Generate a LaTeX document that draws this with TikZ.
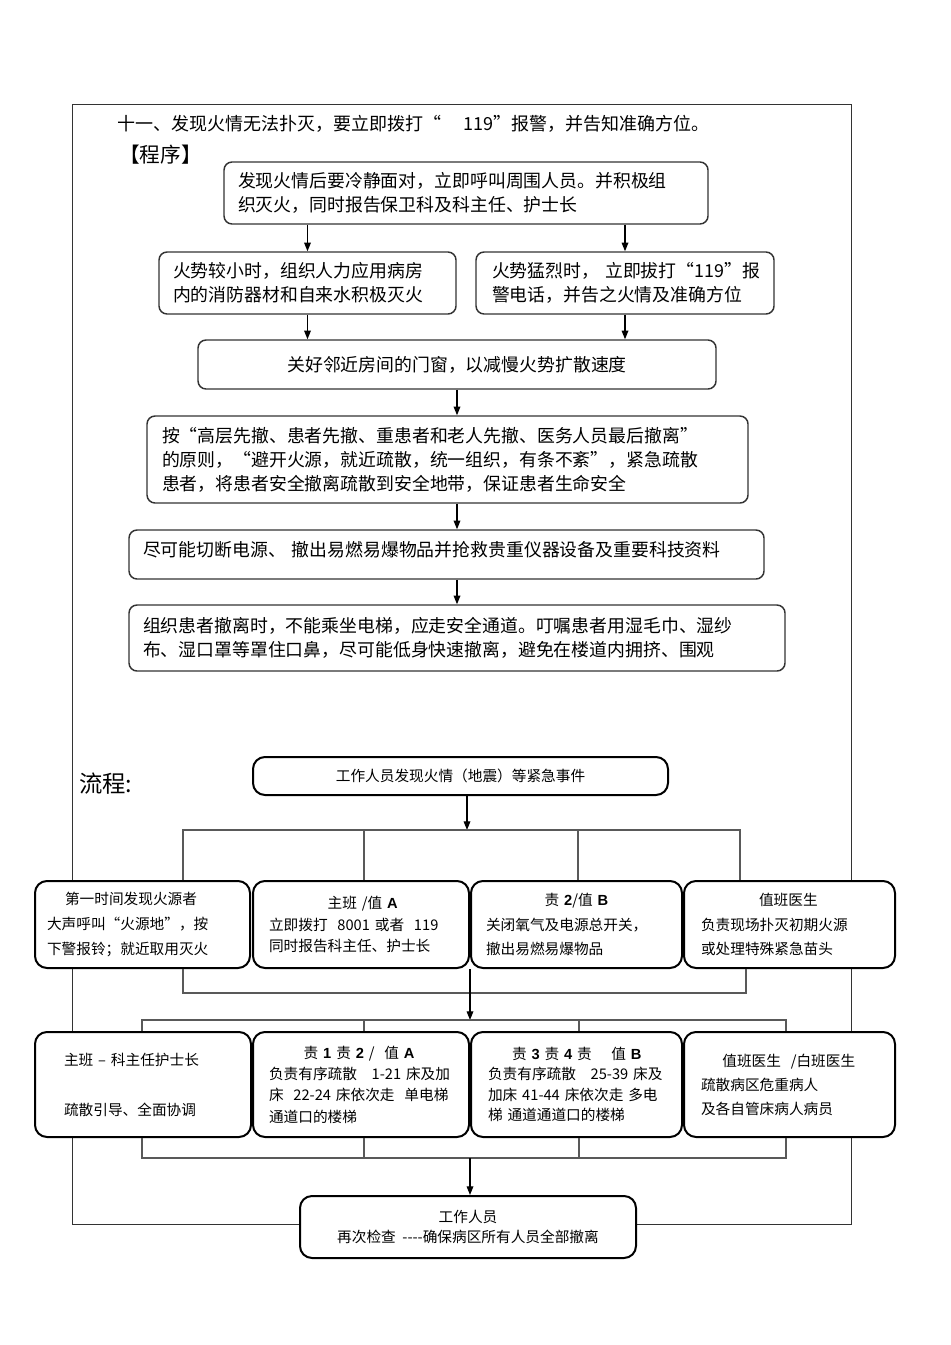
\documentclass[tikz,border=0pt]{standalone}
\usepackage{fontspec}
\setmainfont{Noto Sans CJK SC}
\newfontfamily\lat{Liberation Sans}
\usetikzlibrary{arrows.meta}
\newcommand{\bb}[1]{{\lat\bfseries #1}}
\tikzset{
  topbox/.style={draw=black!80, line width=1.1pt, rounded corners=6pt, fill=white,
    inner ysep=0pt, align=left, font=\fontsize{13.4}{18}\selectfont},
  botbox/.style={draw=black, line width=1.5pt, rounded corners=9pt, fill=white,
    inner ysep=0pt, align=left, minimum height=65.25pt},
  arr/.style={draw=black, line width=0.9pt, -{Triangle[length=6.5pt,width=5pt]}},
  bar/.style={draw=black!65, line width=0.8pt},
  frame/.style={draw=black!80, line width=0.75pt}
}
\begin{document}
\begin{tikzpicture}[x=0.75pt,y=-0.75pt]
\useasboundingbox (0,0) rectangle (950,1345);
% outer frame
\draw[frame] (72,104) rectangle (851,1224);

% headings
\node[anchor=west, inner sep=0pt, font=\fontsize{13.5}{16}\selectfont] (title) at (117,124)
  {十一、发现火情无法扑灭，要立即拨打“\quad\ 119”报警，并告知准确方位。};
\node[anchor=west, inner sep=0pt, font=\fontsize{15.5}{18}\selectfont] (prog) at (119,155) {【程序】};
\node[anchor=west, inner sep=0pt, font=\fontsize{17.5}{20}\selectfont] (liucheng) at (79,784) {流程:};

% top flow
\node[topbox, minimum width=363pt, minimum height=46.5pt, inner xsep=10.5pt, text width=342pt] (b1) at (466,193)
  {发现火情后要冷静面对，立即呼叫周围人员。并积极组\\织灭火，同时报告保卫科及科主任、护士长};
\node[topbox, minimum width=222.75pt, minimum height=46.5pt, inner xsep=10.5pt, text width=201.75pt] (b2l) at (307.5,283)
  {火势较小时，组织人力应用病房\\内的消防器材和自来水积极灭火};
\node[topbox, minimum width=223.5pt, minimum height=46.5pt, inner xsep=12pt, text width=199.5pt] (b2r) at (625,283)
  {\mbox{火势猛烈时，\ 立即拔打“119”报}\\警电话，并告之火情及准确方位};
\node[topbox, minimum width=388.5pt, minimum height=36.75pt, align=center] (b3) at (457,364.5)
  {关好邻近房间的门窗，以减慢火势扩散速度};
\node[topbox, minimum width=450.75pt, minimum height=65.25pt, inner xsep=11.25pt, text width=428.25pt] (b4) at (447.5,459.5)
  {按“高层先撤、患者先撤、重患者和老人先撤、医务人员最后撤离”\\的原则，“避开火源，就近疏散，统一组织，有条不紊”，紧急疏散\\患者，将患者安全撤离疏散到安全地带，保证患者生命安全};
\node[topbox, minimum width=476.25pt, minimum height=36.75pt, inner xsep=10.5pt, text width=455.25pt] (b5) at (446.5,554.5)
  {\raisebox{3.75pt}[\height][\depth]{尽可能切断电源、\ 撤出易燃易爆物品并抢救贵重仪器设备及重要科技资料}};
\node[topbox, minimum width=492pt, minimum height=49.5pt, inner xsep=10.5pt, text width=471pt] (b6) at (457,638)
  {组织患者撤离时，不能乘坐电梯，应走安全通道。叮嘱患者用湿毛巾、湿纱\\布、湿口罩等罩住口鼻，尽可能低身快速撤离，避免在楼道内拥挤、围观};

\draw[arr] (b2l |- b1.south) -- (b2l.north);
\draw[arr] (b2r |- b1.south) -- (b2r.north);
\draw[arr] (b2l.south) -- (b2l.south |- b3.north);
\draw[arr] (b2r.south) -- (b2r.south |- b3.north);
\draw[arr] (b3.south) -- (b3.south |- b4.north);
\draw[arr] (b3.south |- b4.south) -- (b3.south |- b5.north);
\draw[arr] (b3.south |- b5.south) -- (b3.south |- b6.north);

% bottom flow
\node[botbox, minimum width=311.25pt, minimum height=28.5pt, align=center, font=\fontsize{11}{14}\selectfont] (t) at (460.5,776)
  {工作人员发现火情（地震）等紧急事件};

\node[botbox, minimum width=161.25pt, inner xsep=9pt, text width=143.25pt, font=\fontsize{11}{18.75}\selectfont] (B1) at (142.5,924.5)
  {\hspace*{13.5pt}第一时间发现火源者\\大声呼叫“火源地”，按\\下警报铃；就近取用灭火};
\node[botbox, minimum width=162pt, inner xsep=12pt, text width=138pt, font=\fontsize{11}{16}\selectfont] (B2) at (361,924.5)
  {\hspace*{44pt}主班 /值 \bb{A}\\立即拨打\ \ 8001 或者\ \ 119\\同时报告科主任、护士长};
\node[botbox, minimum width=158.25pt, inner xsep=11.25pt, text width=135.75pt, font=\fontsize{11}{18.4}\selectfont] (B3) at (576.5,924.5)
  {\hspace*{44pt}责 \bb{2}/值 \bb{B}\\关闭氧气及电源总开关，\\撤出易燃易爆物品};
\node[botbox, minimum width=158.25pt, inner xsep=12.75pt, text width=132.75pt, font=\fontsize{11}{18.4}\selectfont] (B4) at (789.5,924.5)
  {\hspace*{43.5pt}值班医生\\负责现场扑灭初期火源\\或处理特殊紧急苗头};

\node[botbox, minimum width=162pt, minimum height=78.75pt, inner xsep=21.75pt, text width=118.5pt, font=\fontsize{11}{37.5}\selectfont] (C1) at (143,1084.5)
  {主班 – 科主任护士长\\疏散引导、全面协调};
\node[botbox, minimum width=162pt, minimum height=78.75pt, inner xsep=12pt, text width=138pt, font=\fontsize{11}{16}\selectfont] (C2) at (361,1084.5)
  {\hspace*{26pt}责 \bb{1} 责 \bb{2} /\ \ 值 \bb{A}\\负责有序疏散\ \ \ 1-21 床及加\\床\ \ 22-24 床依次走\ \ 单电梯\\通道口的楼梯};
\node[botbox, minimum width=158.25pt, minimum height=78.75pt, inner xsep=12.75pt, text width=132.75pt, font=\fontsize{11}{15.2}\selectfont] (C3) at (576.5,1084.5)
  {\hspace*{18pt}责 \bb{3} 责 \bb{4} 责\quad\ 值 \bb{B}\\负责有序疏散\ \ \ 25-39 床及\\加床\ 41-44 床依次走\ 多电\\梯 通道通道口的楼梯};
\node[botbox, minimum width=158.25pt, minimum height=78.75pt, inner xsep=12.75pt, text width=132.75pt, font=\fontsize{11}{18}\selectfont] (C4) at (789.5,1084.5)
  {\hspace*{16pt}值班医生\ \ /白班医生\\疏散病区危重病人\\及各自管床病人病员};

\node[botbox, minimum width=252pt, minimum height=46.5pt, align=center, font=\fontsize{11}{15}\selectfont] (f) at (468,1227)
  {工作人员\\再次检查\ \ {-}{-}{-}{-}确保病区所有人员全部撤离};

% connectors bottom
\coordinate (m1) at (467,830);
\coordinate (v1) at (183,830);
\coordinate (v2) at (364,830);
\coordinate (v3) at (578,830);
\coordinate (v4) at (740,830);
\draw[arr] (t.south -| m1) -- (m1);
\draw[bar] (v1 |- B1.north) -- (v1) -- (v4) -- (v4 |- B4.north);
\draw[bar] (v2) -- (v2 |- B2.north);
\draw[bar] (v3) -- (v3 |- B3.north);

\coordinate (w1) at (183,993);
\coordinate (w2) at (746,993);
\draw[bar] (w1 |- B1.south) -- (w1) -- (w2) -- (w2 |- B4.south);
\coordinate (m2) at (470,1020);
\draw[arr] (m2 |- B2.south) -- (m2);

\coordinate (u1) at (142,1020);
\coordinate (u2) at (364,1020);
\coordinate (u3) at (579,1020);
\coordinate (u4) at (786,1020);
\draw[bar] (u1 |- C1.north) -- (u1) -- (u4) -- (u4 |- C4.north);
\draw[bar] (u2) -- (u2 |- C2.north);
\draw[bar] (u3) -- (u3 |- C3.north);

\coordinate (s1) at (142,1158);
\coordinate (s2) at (364,1158);
\coordinate (s3) at (579,1158);
\coordinate (s4) at (786,1158);
\draw[bar] (s1 |- C1.south) -- (s1) -- (s4) -- (s4 |- C4.south);
\draw[bar] (s2 |- C2.south) -- (s2);
\draw[bar] (s3 |- C3.south) -- (s3);
\coordinate (m3) at (470,1158);
\draw[arr] (m3) -- (m3 |- f.north);
\end{tikzpicture}
\end{document}
